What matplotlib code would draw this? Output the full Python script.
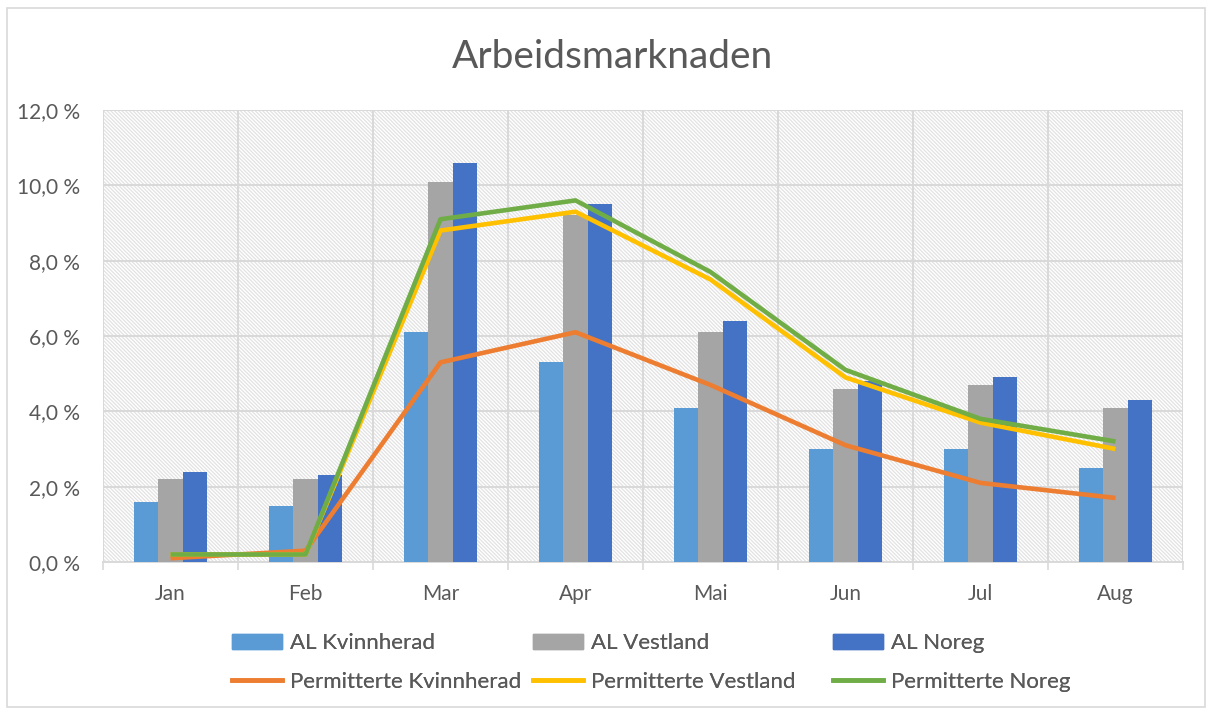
import matplotlib
matplotlib.use("Agg")
import matplotlib.pyplot as plt
import matplotlib.patches as mpatches
from matplotlib.lines import Line2D
from matplotlib.ticker import FuncFormatter, FixedLocator
import numpy as np

months = ["Jan", "Feb", "Mar", "Apr", "Mai", "Jun", "Jul", "Aug"]
al_kvinnherad = [1.6, 1.5, 6.1, 5.3, 4.1, 3.0, 3.0, 2.5]
al_vestland = [2.2, 2.2, 10.1, 9.2, 6.1, 4.6, 4.7, 4.1]
al_noreg = [2.4, 2.3, 10.6, 9.5, 6.4, 4.8, 4.9, 4.3]
perm_kvinnherad = [0.1, 0.3, 5.3, 6.1, 4.7, 3.1, 2.1, 1.7]
perm_vestland = [0.2, 0.2, 8.8, 9.3, 7.5, 4.9, 3.7, 3.0]
perm_noreg = [0.2, 0.2, 9.1, 9.6, 7.7, 5.1, 3.8, 3.2]
yticks = [0, 2, 4, 6, 8, 10, 12]

plt.rcParams['font.family'] = ['Lato', 'DejaVu Sans']
plt.rcParams['hatch.color'] = '#e2e2e2'
plt.rcParams['hatch.linewidth'] = 0.9

TXT = '#595959'
GRID = '#d9d9d9'
c_lb, c_gr, c_db = '#5B9BD5', '#A5A5A5', '#4472C4'
c_or, c_ye, c_gn = '#ED7D31', '#FFC000', '#70AD47'

fig = plt.figure(figsize=(12.13, 7.15), dpi=100)
ax = fig.add_axes([103/1213, 1-562/715, (1183-103)/1213, (562-110)/715])

# hatched background
ax.patch.set_facecolor('white')
bg = mpatches.Rectangle((0, 0), 1, 1, transform=ax.transAxes, facecolor='white',
                        edgecolor='#e2e2e2', hatch='\\' * 9, linewidth=0, zorder=0)
ax.add_patch(bg)

x = np.arange(len(months))
w = 0.18
ax.bar(x - w, al_kvinnherad, w, color=c_lb, zorder=3, label='AL Kvinnherad')
ax.bar(x, al_vestland, w, color=c_gr, zorder=3, label='AL Vestland')
ax.bar(x + w, al_noreg, w, color=c_db, zorder=3, label='AL Noreg')
ax.plot(x, perm_kvinnherad, color=c_or, lw=3.3, zorder=4, solid_capstyle='butt', solid_joinstyle='round')
ax.plot(x, perm_vestland, color=c_ye, lw=3.3, zorder=5, solid_capstyle='butt', solid_joinstyle='round')
ax.plot(x, perm_noreg, color=c_gn, lw=3.3, zorder=6, solid_capstyle='butt', solid_joinstyle='round')

ax.set_xlim(-0.5, len(months) - 0.5)
ax.set_ylim(0, 12)
ax.set_yticks(yticks)
ax.yaxis.set_major_formatter(FuncFormatter(lambda v, p: f"{v:.1f} %".replace('.', ',')))
ax.set_xticks(x)
ax.set_xticklabels(months)
ax.xaxis.set_minor_locator(FixedLocator(np.arange(-0.5, len(months), 1.0)))
ax.tick_params(axis='x', which='major', length=0, pad=16, labelsize=15, labelcolor=TXT)
ax.tick_params(axis='x', which='minor', length=6, width=1.2, color=GRID)
ax.tick_params(axis='y', length=0, pad=16.5, labelsize=15, labelcolor=TXT)

ax.grid(axis='y', which='major', color=GRID, lw=1.4, zorder=1)
ax.grid(axis='x', which='minor', color=GRID, lw=1.4, zorder=1)
ax.grid(axis='x', which='major', visible=False)
ax.set_axisbelow(True)
for s in ['left', 'right', 'top']:
    ax.spines[s].set_visible(False)
ax.spines['bottom'].set_color(GRID)
ax.spines['bottom'].set_linewidth(1.4)

fig.text(612/1213, 1-57/715, 'Arbeidsmarknaden', ha='center', va='center',
         fontsize=28, color=TXT)

# legends: three columns placed manually
cols = [
    (232, [mpatches.Patch(color=c_lb), Line2D([], [], color=c_or, lw=3.3)],
     ['AL Kvinnherad', 'Permitterte Kvinnherad']),
    (533, [mpatches.Patch(color=c_gr), Line2D([], [], color=c_ye, lw=3.3)],
     ['AL Vestland', 'Permitterte Vestland']),
    (833, [mpatches.Patch(color=c_db), Line2D([], [], color=c_gn, lw=3.3)],
     ['AL Noreg', 'Permitterte Noreg']),
]
for xp, hs, ls in cols:
    leg = fig.legend(hs, ls, loc='upper left', bbox_to_anchor=(xp/1213, 1-633/715),
                     frameon=False, fontsize=16, labelcolor=TXT, handlelength=2.25,
                     handleheight=0.65, handletextpad=0.36, labelspacing=0.84,
                     borderpad=0, borderaxespad=0)
    fig.add_artist(leg)

# outer border
fig.patches.append(mpatches.Rectangle((7/1213, 1-707/715), (1205-7)/1213, (707-8)/715,
                                      transform=fig.transFigure, fill=False,
                                      edgecolor=GRID, lw=1.2))

fig.savefig('out.png', dpi=100)
